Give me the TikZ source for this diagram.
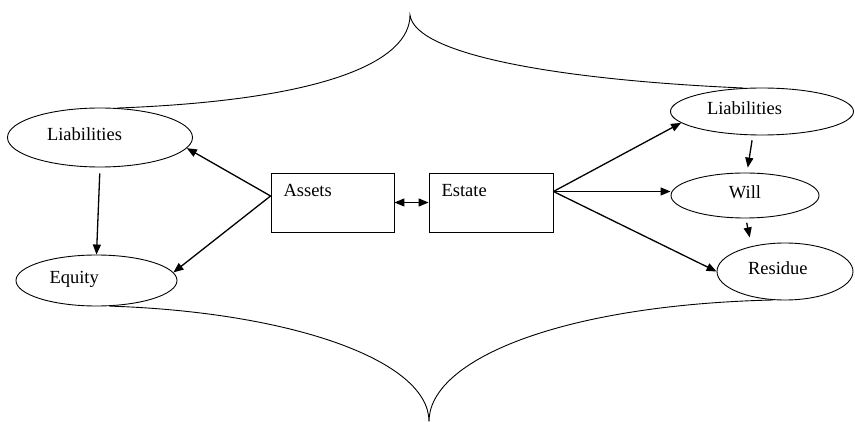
\documentclass[tikz,border=0pt]{standalone}
\usepackage{fontspec}
\setmainfont{Liberation Serif}
\usetikzlibrary{shapes.geometric}
\usetikzlibrary{arrows.meta}
\tikzset{
    % Filled arrow heads, as in the original drawing
    >={Triangle[length=10pt, width=8pt]},
%
    % Lines
    outline/.style={line width=0.9pt},
    link/.style={draw, line width=1.3pt, ->},
    brace/.style={draw, outline},
%
    every node/.style={font=\fontsize{18.5}{22}\selectfont},
%
    % Text sits top left in the boxes
    box/.style={
        draw, rectangle, outline, align=left,
        inner xsep=12.5pt, inner ysep=4pt,
        text height=20pt, text depth=31pt, minimum height=59pt},
    oval/.style={
        draw, ellipse, outline, inner sep=0pt, align=left,
        text height=12pt, text depth=5pt},
}

\begin{document}
\begin{tikzpicture}[x=1pt, y=-1pt]

\useasboundingbox (0,0) rectangle (855,422);

\path
    (100,137.5) node [oval, minimum width=185pt, minimum height=59pt,
        text width=106pt] (lliab) {Liabilities}
    (96.5,280.5) node [oval, minimum width=161pt, minimum height=51pt,
        text width=94pt] (equity) {Equity}
    (332.5,202.5) node [box, minimum width=123pt, text width=98pt] (assets) {Assets}
    (491,202.5) node [box, minimum width=124pt, text width=99pt] (estate) {Estate}
    (762,111.5) node [oval, minimum width=183pt, minimum height=47pt,
        text width=110pt] (rliab) {Liabilities}
    (745,195.5) node [oval, minimum width=148pt, minimum height=45pt] (will) {Will}
    (785,271.5) node [oval, minimum width=136pt, minimum height=57pt,
        text width=74pt] (residue) {Residue};

\coordinate (top) at (410,15);
\coordinate (bottom) at (429,421.5);

% The two braces
\draw [brace] (lliab.60) .. controls (330,100) and (410,60) .. (top)
    .. controls (415,55) and (560,80) .. (rliab.128);
\draw [brace] (equity.-63) .. controls (290,312) and (429,360) .. (bottom)
    .. controls (429,360) and (560,305) .. (residue.-113);

\draw [link, <->] (assets) -- (estate);
\draw [link] (assets.174) -- (lliab.-7);
\draw [link] (assets.174) -- (equity.6);
\draw [link, shorten <=6pt] (lliab.south) -- (equity.north);
\draw [link] (estate.10) -- (rliab.188);
\draw [link] (estate.10) -- (estate.10 -| will.west);
\draw [link] (estate.10) -- (residue.west);
\draw [link, shorten <=5pt, shorten >=5pt] (rliab.-111) -- (will.85);
\draw [link, shorten <=4.5pt, shorten >=9pt] (will.-88) -- (residue.143);

\end{tikzpicture}
\end{document}
